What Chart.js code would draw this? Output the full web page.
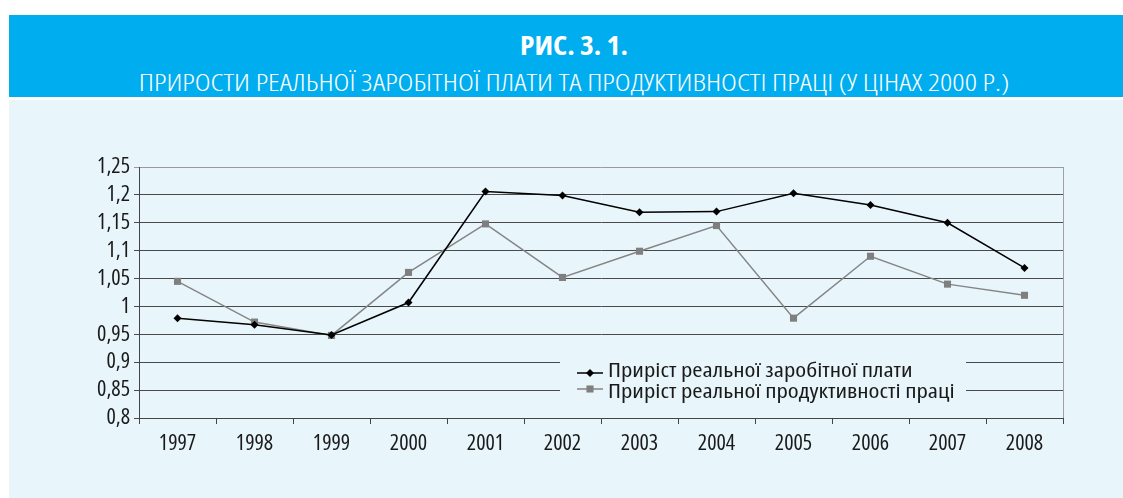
<!DOCTYPE html>
<html lang="uk">
<head>
<meta charset="utf-8">
<script src="https://cdn.jsdelivr.net/npm/chart.js@4.4.1/dist/chart.umd.min.js"></script>
<style>
html,body{margin:0;padding:0;background:#fff;width:1123px;height:498px;overflow:hidden;}
.head{position:absolute;left:9px;top:15px;width:1114px;height:82px;background:#00aeef;color:#fff;
  font-family:"Open Sans",sans-serif;font-stretch:condensed;}
.head div{position:absolute;left:8px;width:1114px;text-align:center;white-space:nowrap;transform-origin:50% 50%;}
.t1{top:16px;font-size:27px;line-height:28px;font-weight:bold;transform:scaleX(1.09);}
.t2{top:54px;font-size:24px;line-height:26px;font-weight:300;transform:scaleX(1.256);}
.panel{position:absolute;left:9px;top:100px;width:1114px;height:398px;background:#e8f6fc;}
canvas{display:block;}
</style>
</head>
<body>
<div class="head">
  <div class="t1">РИС. 3. 1.</div>
  <div class="t2">ПРИРОСТИ РЕАЛЬНОЇ ЗАРОБІТНОЇ ПЛАТИ ТА ПРОДУКТИВНОСТІ ПРАЦІ (У ЦІНАХ 2000 Р.)</div>
</div>
<div class="panel"><canvas id="chart" width="1114" height="398"></canvas></div>
<script>
const FONT = '"Open Sans", sans-serif';

const years = ['1997','1998','1999','2000','2001','2002','2003','2004','2005','2006','2007','2008'];
const wageGrowth = [0.979, 0.967, 0.949, 1.007, 1.206, 1.199, 1.169, 1.170, 1.203, 1.182, 1.150, 1.069];
const productivityGrowth = [1.045, 0.972, 0.948, 1.061, 1.148, 1.052, 1.099, 1.145, 0.979, 1.090, 1.040, 1.020];
const seriesLabels = ['Приріст реальної заробітної плати', 'Приріст реальної продуктивності праці'];
const yMin = 0.8, yMax = 1.25, yStep = 0.05;

function fmtTick(v){
  return String(Math.round(v * 100) / 100).replace('.', ',');
}

// legend sits inside the plot, covering the grid lines behind it
const innerLegend = {
  id: 'innerLegend',
  beforeDatasetsDraw(chart){
    const ctx = chart.ctx;
    const a = chart.chartArea;
    ctx.save();
    // right border of plot
    ctx.strokeStyle = '#a0a0a0';
    ctx.lineWidth = 1;
    ctx.beginPath();
    ctx.moveTo(a.right + 0.5, a.top);
    ctx.lineTo(a.right + 0.5, a.bottom);
    ctx.stroke();

    ctx.fillStyle = '#e8f6fc';
    ctx.fillRect(551, 250, 406, 56);
    ctx.font = 'condensed 20px ' + FONT;
    ctx.textBaseline = 'alphabetic';
    const rows = [273, 289];
    const base = [277, 298];
    chart.data.datasets.forEach((ds, i) => {
      const y = rows[i];
      ctx.strokeStyle = ds.borderColor;
      ctx.lineWidth = 1.5;
      ctx.beginPath();
      ctx.moveTo(568, y);
      ctx.lineTo(594, y);
      ctx.stroke();
      ctx.fillStyle = ds.pointBackgroundColor;
      Chart.helpers.drawPoint(ctx, {pointStyle: ds.pointStyle, radius: ds.pointRadius, borderWidth: 0}, 581, y);
      ctx.fillStyle = '#1a1a1a';
      ctx.save();
      ctx.translate(599, base[i]);
      ctx.scale(1.24, 1);
      ctx.fillText(ds.label, 0, 0);
      ctx.restore();
    });
    ctx.restore();
  }
};

const tickFont = { family: FONT, size: 22, weight: 'condensed' };

new Chart(document.getElementById('chart'), {
  type: 'line',
  data: {
    labels: years,
    datasets: [
      { label: seriesLabels[0], data: wageGrowth, borderColor: '#000', borderWidth: 1.5,
        pointStyle: 'rectRot', pointRadius: 4, pointBackgroundColor: '#000', pointBorderWidth: 0, tension: 0 },
      { label: seriesLabels[1], data: productivityGrowth, borderColor: '#858585', borderWidth: 1.5,
        pointStyle: 'rect', pointRadius: 5, pointBackgroundColor: '#7f7f7f', pointBorderWidth: 0, tension: 0 }
    ]
  },
  options: {
    responsive: false,
    animation: false,
    layout: { padding: { left: 0, right: 60, top: 67, bottom: 0 } },
    plugins: { legend: { display: false }, tooltip: { enabled: false } },
    scales: {
      x: {
        offset: true,
        grid: { offset: true, drawOnChartArea: false, drawTicks: true, tickLength: 6, color: '#444' },
        border: { display: true, color: '#444', width: 1 },
        ticks: { color: '#1a1a1a', font: tickFont, padding: 7, maxRotation: 0, autoSkip: false },
        afterFit(s){ s.height = 80; }
      },
      y: {
        min: yMin, max: yMax,
        grid: { color: (c) => (c.tick && c.tick.value > 1.24) ? '#9a9a9a' : '#4a4a4a', tickLength: 5, lineWidth: 1 },
        border: { display: true, color: '#444', width: 1 },
        ticks: { stepSize: yStep, autoSkip: false, maxTicksLimit: 20, color: '#1a1a1a', font: tickFont, padding: 4,
          callback: (v) => fmtTick(v) },
        afterFit(s){ s.width = 130; }
      }
    }
  },
  plugins: [innerLegend]
});
</script>
</body>
</html>
